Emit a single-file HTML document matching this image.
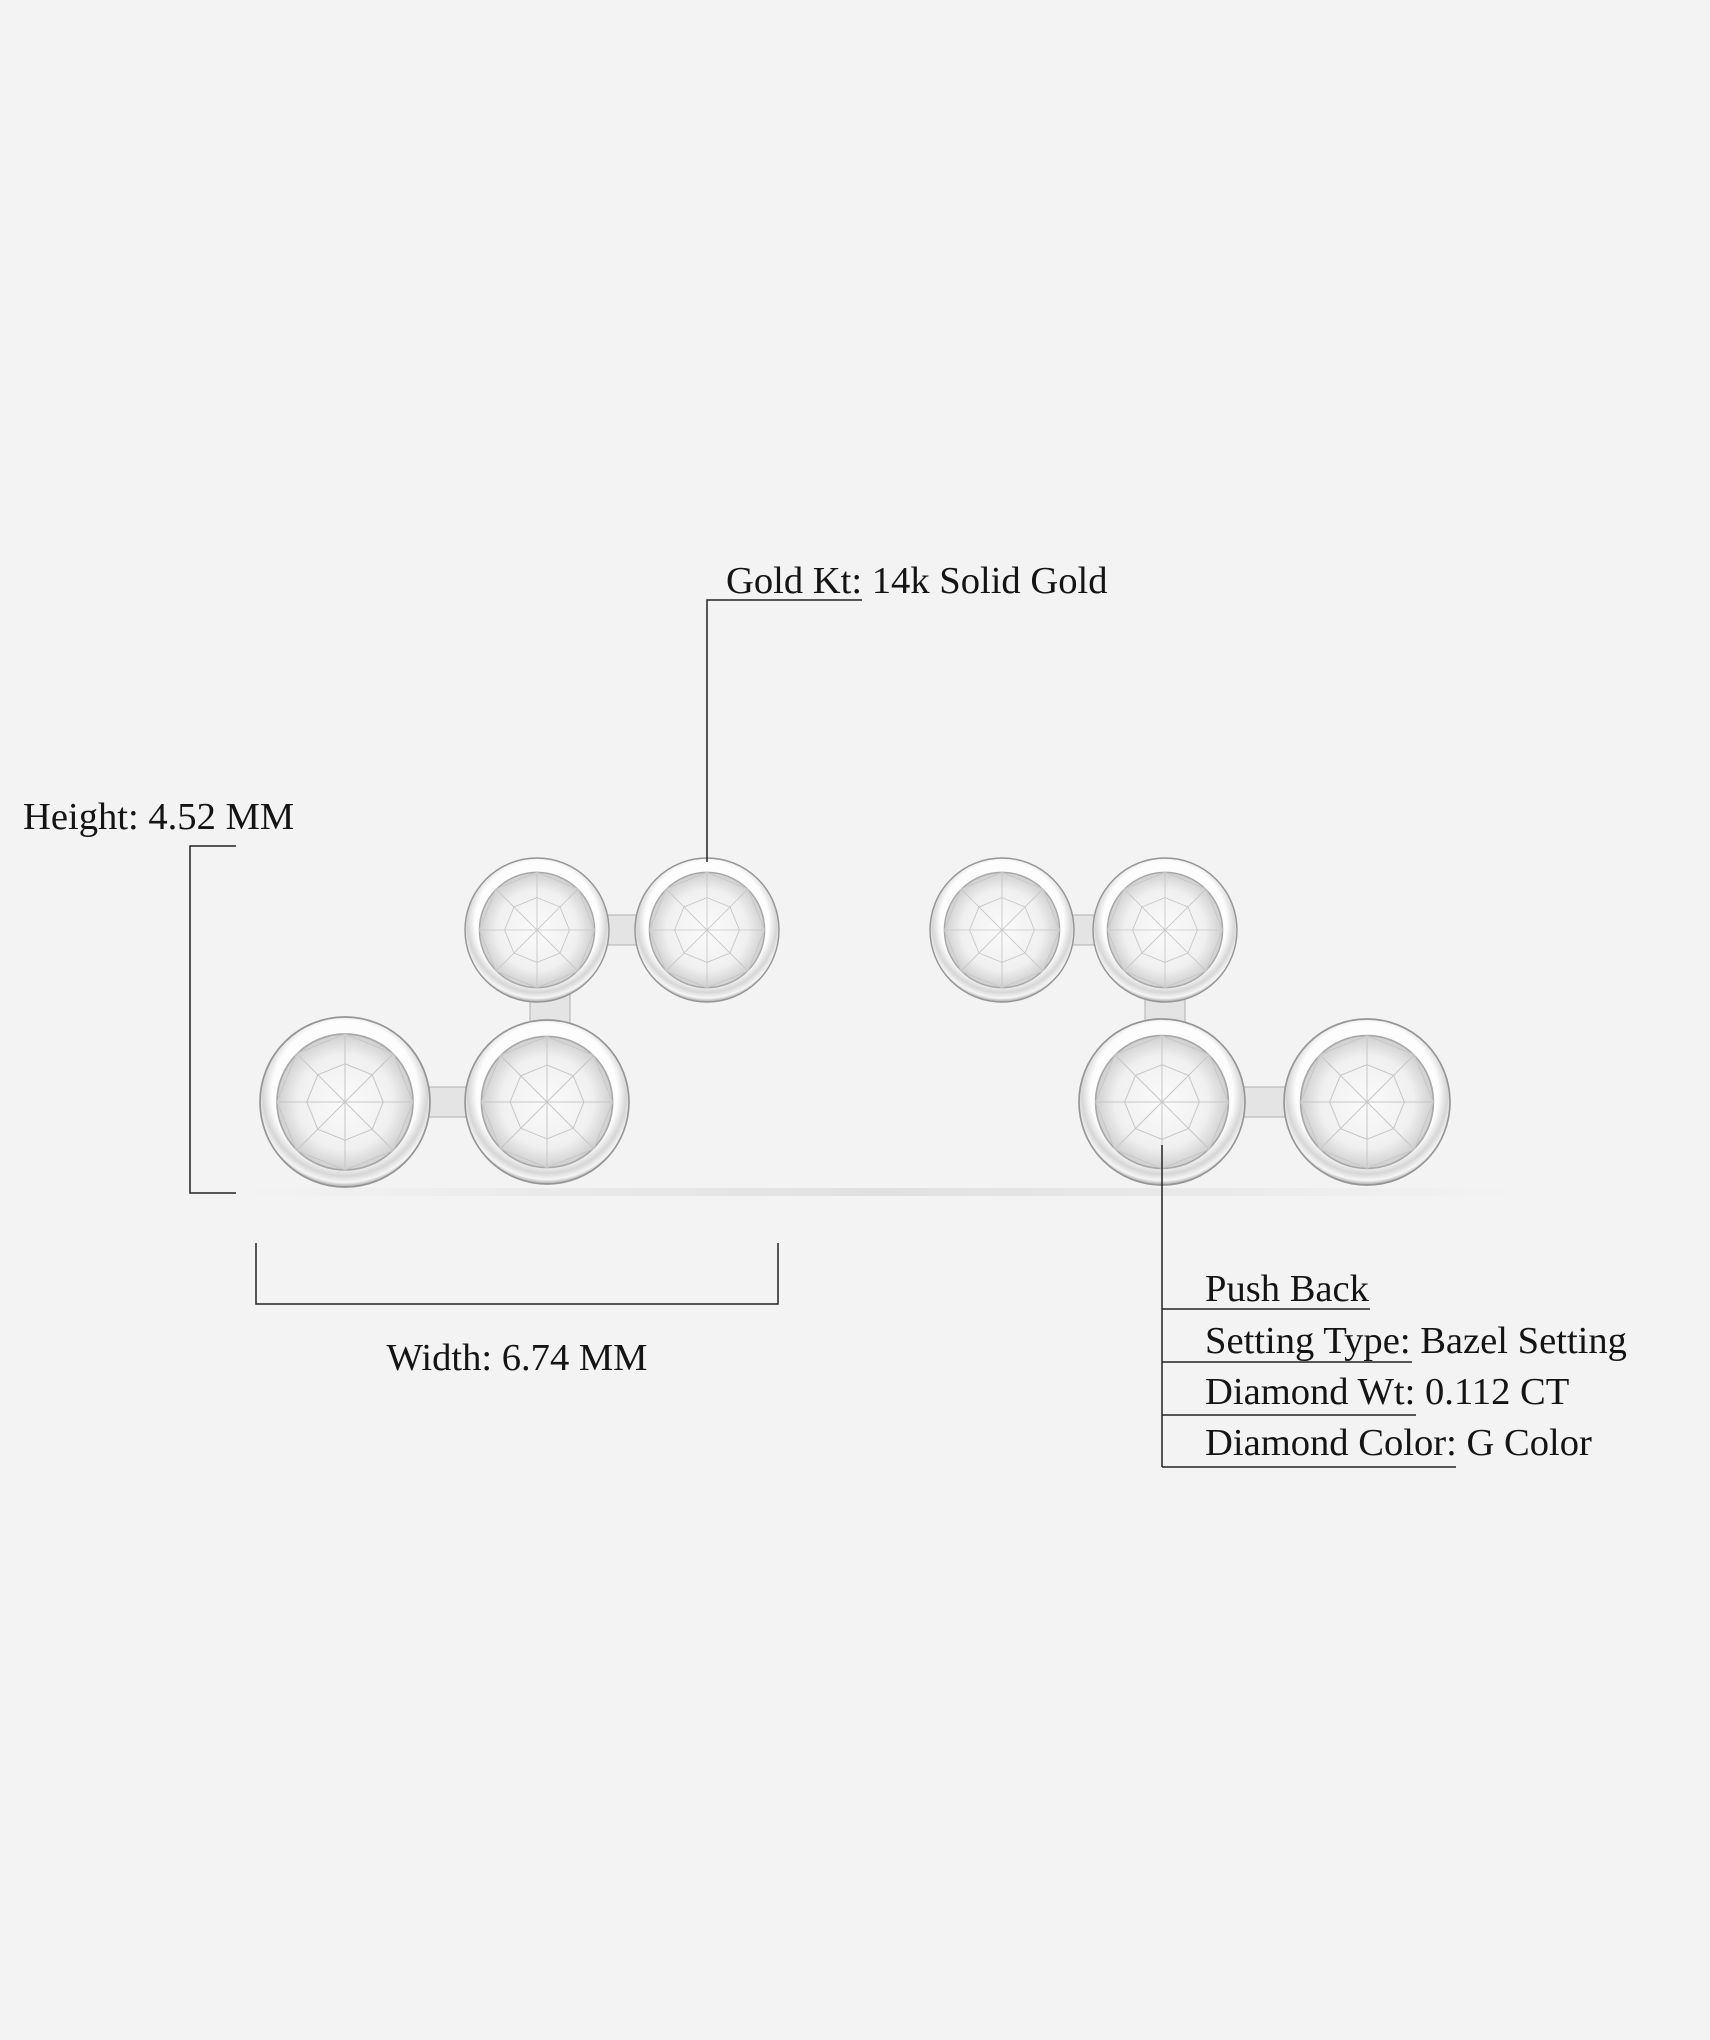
<!DOCTYPE html>
<html><head><meta charset="utf-8"><style>
html,body{margin:0;padding:0;background:#f3f3f3;}
svg{display:block}
text{font-family:"Liberation Serif",serif;font-size:38.6px;fill:#141414;}
</style></head><body>
<svg width="1710" height="2040" viewBox="0 0 1710 2040" xmlns="http://www.w3.org/2000/svg">
<defs>
<radialGradient id="bz" cx="50%" cy="45%" r="55%">
<stop offset="0.78" stop-color="#fdfdfd"/><stop offset="0.88" stop-color="#d6d6d6"/><stop offset="0.95" stop-color="#f6f6f6"/><stop offset="1" stop-color="#a5a5a5"/>
</radialGradient>
<radialGradient id="dm" cx="50%" cy="50%" r="50%">
<stop offset="0" stop-color="#fbfbfb"/><stop offset="0.7" stop-color="#f0f0f0"/><stop offset="1" stop-color="#cfcfcf"/>
</radialGradient>
<linearGradient id="sh" x1="0" x2="1"><stop offset="0" stop-color="#f3f3f3"/><stop offset="0.5" stop-color="#e0e0e0"/><stop offset="1" stop-color="#f3f3f3"/></linearGradient>
<g id="stone">
<circle r="1" fill="url(#bz)" stroke="#959595" stroke-width="0.02"/>
<circle r="0.8" fill="url(#dm)" stroke="#a8a8a8" stroke-width="0.02"/>
<g stroke="#c6c6c6" stroke-width="0.012" fill="none">
<polygon points="0,-0.8 0.57,-0.57 0.8,0 0.57,0.57 0,0.8 -0.57,0.57 -0.8,0 -0.57,-0.57"/>
<polygon points="0,-0.45 0.32,-0.32 0.45,0 0.32,0.32 0,0.45 -0.32,0.32 -0.45,0 -0.32,-0.32"/>
<line x1="-0.8" y1="0" x2="0.8" y2="0"/><line x1="0" y1="-0.8" x2="0" y2="0.8"/>
<line x1="-0.57" y1="-0.57" x2="0.57" y2="0.57"/><line x1="-0.57" y1="0.57" x2="0.57" y2="-0.57"/>
</g>
</g>
</defs>
<rect width="1710" height="2040" fill="#f3f3f3"/>
<rect x="240" y="1188" width="1280" height="8" fill="url(#sh)"/>
<!-- connectors -->
<g fill="#e4e4e4" stroke="#b0b0b0" stroke-width="1">
<rect x="608" y="915" width="30" height="30"/>
<rect x="1068" y="915" width="30" height="30"/>
<rect x="420" y="1087" width="50" height="30"/>
<rect x="1238" y="1087" width="50" height="30"/>
<rect x="530" y="995" width="40" height="30"/>
<rect x="1145" y="995" width="40" height="30"/>
</g>
<use href="#stone" transform="translate(537,930) scale(72)"/>
<use href="#stone" transform="translate(707,930) scale(72)"/>
<use href="#stone" transform="translate(345,1102) scale(85)"/>
<use href="#stone" transform="translate(547,1102) scale(82)"/>
<use href="#stone" transform="translate(1002,930) scale(72)"/>
<use href="#stone" transform="translate(1165,930) scale(72)"/>
<use href="#stone" transform="translate(1162,1102) scale(83)"/>
<use href="#stone" transform="translate(1367,1102) scale(83)"/>
<g stroke="#222" stroke-width="1.5" fill="none">
<polyline points="862,600 707,600 707,862"/>
<polyline points="236,846 190,846 190,1193 236,1193"/>
<polyline points="256,1243 256,1304 778,1304 778,1243"/>
<line x1="1162" y1="1145" x2="1162" y2="1467"/>
<line x1="1162" y1="1309" x2="1370" y2="1309"/>
<line x1="1162" y1="1362" x2="1412" y2="1362"/>
<line x1="1162" y1="1415" x2="1416" y2="1415"/>
<line x1="1162" y1="1467" x2="1456" y2="1467"/>
</g>
<text x="726" y="593">Gold Kt: 14k Solid Gold</text>
<text x="23" y="829">Height: 4.52 MM</text>
<text x="517" y="1370" text-anchor="middle">Width: 6.74 MM</text>
<text x="1205" y="1301">Push Back</text>
<text x="1205" y="1353">Setting Type: Bazel Setting</text>
<text x="1205" y="1404">Diamond Wt: 0.112 CT</text>
<text x="1205" y="1455">Diamond Color: G Color</text>
</svg>
</body></html>
